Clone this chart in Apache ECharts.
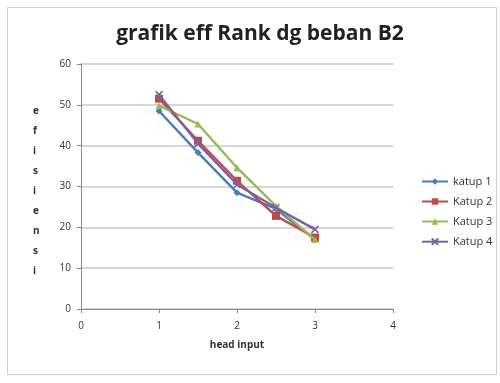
<!DOCTYPE html>
<html>
<head>
<meta charset="utf-8">
<script src="https://cdn.jsdelivr.net/npm/echarts@6/dist/echarts.min.js"></script>
<style>
  html, body { margin: 0; padding: 0; background: #fff; }
  #chart { width: 500px; height: 383px; }
</style>
</head>
<body>
<div id="chart"></div>
<script>
// head input values (x) and efficiency per valve
const headInput = [1, 1.5, 2, 2.5, 3];
const seriesNames = ['katup 1', 'Katup 2', 'Katup 3', 'Katup 4'];
const katup1 = [48.5, 38.3, 28.5, 24.5, 17];
const katup2 = [51.5, 41.2, 31.4, 22.8, 17.5];
const katup3 = [49.8, 45.3, 34.6, 25.2, 17];
const katup4 = [52.5, 40.5, 30.5, 24.8, 19.5];
const xTicks = [0, 1, 2, 3, 4];
const yTicks = [0, 10, 20, 30, 40, 50, 60];

const colors = ['#4a7ebb', '#be4b48', '#98b954', '#7d60a0'];
const symbols = ['diamond', 'rect', 'triangle', 'path://M0,0 L10,10 M10,0 L0,10'];
const values = [katup1, katup2, katup3, katup4];

const chart = echarts.init(document.getElementById('chart'));
const font = '"Open Sans", "Liberation Sans", sans-serif';

chart.setOption({
  animation: false,
  backgroundColor: '#fff',
  title: {
    text: 'grafik eff Rank dg beban B2',
    left: 255, top: 19, textAlign: 'center',
    textStyle: { fontFamily: font, fontSize: 21, fontWeight: 'bold', color: '#222' }
  },
  graphic: [
    { type: 'rect', shape: { x: 7.5, y: 7.5, width: 489, height: 367 },
      style: { fill: 'none', stroke: '#d0d0d0', lineWidth: 1 } },
    { type: 'text', left: 33, top: 101,
      style: { text: 'e\nf\ni\ns\ni\ne\nn\ns\ni', fontFamily: font, fontSize: 10, fontWeight: 'bold',
               fill: '#333', lineHeight: 20, align: 'center' } }
  ],
  legend: {
    orient: 'vertical', left: 416, top: 171, itemGap: 9, itemWidth: 26, itemHeight: 8,
    textStyle: { fontFamily: font, fontSize: 11, color: '#333' },
    data: seriesNames
  },
  grid: { left: 81, right: 107, top: 64, bottom: 74 },
  xAxis: {
    type: 'value', min: xTicks[0], max: xTicks[xTicks.length - 1], interval: 1,
    name: 'head input', nameLocation: 'middle', nameGap: 31,
    nameTextStyle: { fontFamily: font, fontSize: 10, fontWeight: 'bold', color: '#333' },
    axisLine: { lineStyle: { color: '#888' } },
    axisTick: { show: true, length: 4, lineStyle: { color: '#888' } },
    axisLabel: { fontFamily: font, fontSize: 10, color: '#333', margin: 12 },
    splitLine: { show: false }
  },
  yAxis: {
    type: 'value', min: yTicks[0], max: yTicks[yTicks.length - 1], interval: 10,
    axisLine: { show: true, lineStyle: { color: '#888' } },
    axisTick: { show: true, length: 4, lineStyle: { color: '#888' } },
    axisLabel: { fontFamily: font, fontSize: 10, color: '#333', margin: 10 },
    splitLine: { lineStyle: { color: '#c8c8c8', width: 1.5 } }
  },
  series: seriesNames.map((name, i) => ({
    name: name,
    type: 'line',
    data: headInput.map((x, j) => [x, values[i][j]]),
    symbol: symbols[i],
    symbolSize: i === 1 ? 8 : 7,
    lineStyle: { color: colors[i], width: 2.4 },
    itemStyle: i === 3 ? { color: 'none', borderColor: colors[i], borderWidth: 1.5 } : { color: colors[i] },
    z: 2 + i
  }))
});
</script>
</body>
</html>
